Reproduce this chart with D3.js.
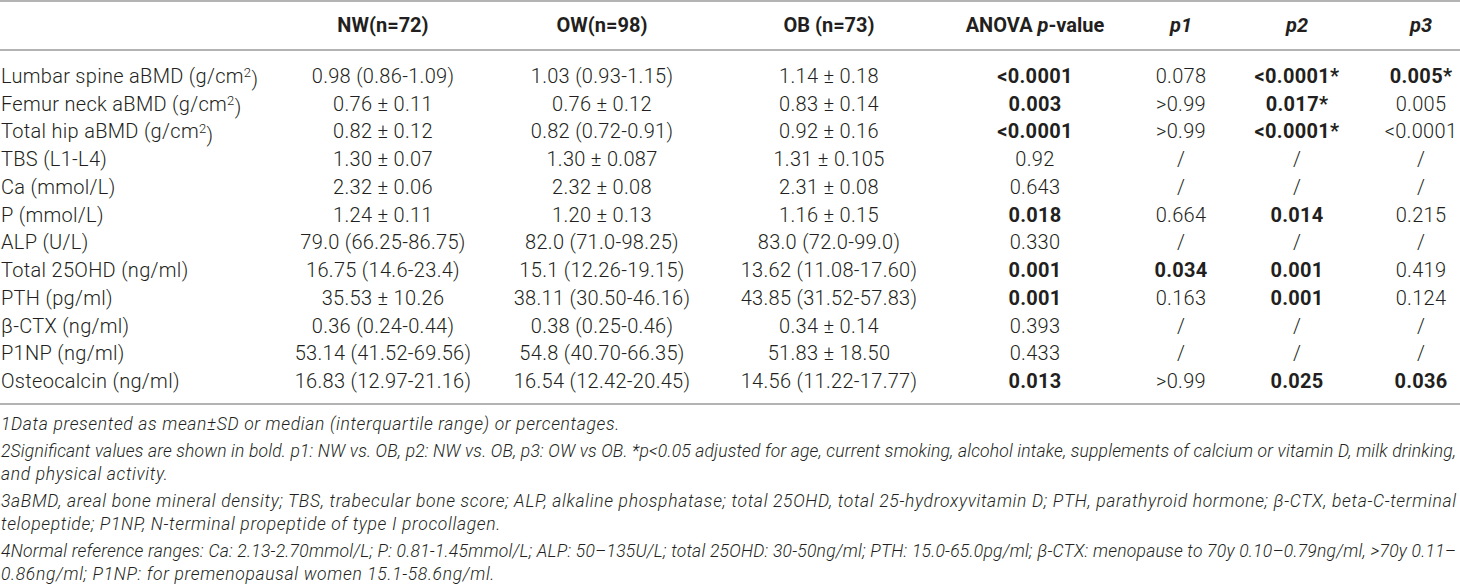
<!DOCTYPE html>
<html>
<head>
<meta charset="utf-8">
<script src="https://cdn.jsdelivr.net/npm/d3@7"></script>
<style>
  body { margin: 0; background: #fff; }
  svg { display: block; }
</style>
</head>
<body>
<div id="chart"></div>
<script>
// table content
const columns = ["NW(n=72)", "OW(n=98)", "OB (n=73)", "ANOVA p-value", "p1", "p2", "p3"]

const rowLabels = [
  "Lumbar spine aBMD (g/cm²)", "Femur neck aBMD (g/cm²)", "Total hip aBMD (g/cm²)",
  "TBS (L1-L4)", "Ca (mmol/L)", "P (mmol/L)", "ALP (U/L)", "Total 25OHD (ng/ml)",
  "PTH (pg/ml)", "β-CTX (ng/ml)", "P1NP (ng/ml)", "Osteocalcin (ng/ml)"
]

const nwValues = ["0.98 (0.86-1.09)", "0.76 ± 0.11", "0.82 ± 0.12", "1.30 ± 0.07", "2.32 ± 0.06",
  "1.24 ± 0.11", "79.0 (66.25-86.75)", "16.75 (14.6-23.4)", "35.53 ± 10.26", "0.36 (0.24-0.44)",
  "53.14 (41.52-69.56)", "16.83 (12.97-21.16)"]
const owValues = ["1.03 (0.93-1.15)", "0.76 ± 0.12", "0.82 (0.72-0.91)", "1.30 ± 0.087", "2.32 ± 0.08",
  "1.20 ± 0.13", "82.0 (71.0-98.25)", "15.1 (12.26-19.15)", "38.11 (30.50-46.16)", "0.38 (0.25-0.46)",
  "54.8 (40.70-66.35)", "16.54 (12.42-20.45)"]
const obValues = ["1.14 ± 0.18", "0.83 ± 0.14", "0.92 ± 0.16", "1.31 ± 0.105", "2.31 ± 0.08",
  "1.16 ± 0.15", "83.0 (72.0-99.0)", "13.62 (11.08-17.60)", "43.85 (31.52-57.83)", "0.34 ± 0.14",
  "51.83 ± 18.50", "14.56 (11.22-17.77)"]

const anovaP = ["<0.0001", "0.003", "<0.0001", "0.92", "0.643", "0.018", "0.330", "0.001", "0.001", "0.393", "0.433", "0.013"]
const p1Values = ["0.078", ">0.99", ">0.99", "/", "/", "0.664", "/", "0.034", "0.163", "/", "/", ">0.99"]
const p2Values = ["<0.0001*", "0.017*", "<0.0001*", "/", "/", "0.014", "/", "0.001", "0.001", "/", "/", "0.025"]
const p3Values = ["0.005*", "0.005", "<0.0001", "/", "/", "0.215", "/", "0.419", "0.124", "/", "/", "0.036"]

// significant (shown in bold)
const anovaSig = [1, 1, 1, 0, 0, 1, 0, 1, 1, 0, 0, 1]
const p1Sig = [0, 0, 0, 0, 0, 0, 0, 1, 0, 0, 0, 0]
const p2Sig = [1, 1, 1, 0, 0, 1, 0, 1, 1, 0, 0, 1]
const p3Sig = [1, 0, 0, 0, 0, 0, 0, 0, 0, 0, 0, 1]

const footnotes = [
  ["1Data presented as mean±SD or median (interquartile range) or percentages."],
  ["2Significant values are shown in bold. p1: NW vs. OB, p2: NW vs. OB, p3: OW vs OB. *p<0.05 adjusted for age, current smoking, alcohol intake, supplements of calcium or vitamin D, milk drinking,",
   "and physical activity."],
  ["3aBMD, areal bone mineral density; TBS, trabecular bone score; ALP, alkaline phosphatase; total 25OHD, total 25-hydroxyvitamin D; PTH, parathyroid hormone; β-CTX, beta-C-terminal",
   "telopeptide; P1NP, N-terminal propeptide of type I procollagen."],
  ["4Normal reference ranges: Ca: 2.13-2.70mmol/L; P: 0.81-1.45mmol/L; ALP: 50–135U/L; total 25OHD: 30-50ng/ml; PTH: 15.0-65.0pg/ml; β-CTX: menopause to 70y 0.10–0.79ng/ml, >70y 0.11–",
   "0.86ng/ml; P1NP: for premenopausal women 15.1-58.6ng/ml."]
]

const W = 1460, H = 588
const ink = "#231f20", rule = "#9a9a9a"
const bodyFont = "Roboto, 'Liberation Sans', Arial, sans-serif"

const svg = d3.select("#chart").append("svg")
  .attr("width", W)
  .attr("height", H)

// column centres
const x = d3.scaleOrdinal()
  .domain(columns)
  .range([383, 602, 829, 1035, 1181, 1297, 1421])

// rows
const y = d3.scaleLinear()
  .domain([0, rowLabels.length - 1])
  .range([76, 381])

const headerY = 25

// rules
const rules = [1, 50, 404]
svg.selectAll(".rule")
  .data(rules).enter()
  .append("line")
  .attr("class", "rule")
  .attr("x1", 0).attr("x2", W)
  .attr("y1", d => d).attr("y2", d => d)
  .style("stroke", rule)
  .style("stroke-width", 1.6)

// header
const head = svg.append("g")
  .style("font-family", bodyFont)
  .style("font-size", "20px")
  .style("font-weight", 700)
  .style("fill", ink)

head.selectAll("text")
  .data(columns).enter()
  .append("text")
  .attr("x", d => x(d))
  .attr("y", headerY)
  .attr("dy", "0.35em")
  .attr("text-anchor", "middle")
  .each(function (d) {
    const t = d3.select(this)
    // italic p in p-value headings
    const m = d.match(/^(.*?)(p)(-value|\d)$/)
    if (!m) { t.text(d); return }
    if (m[1]) t.append("tspan").text(m[1])
    t.append("tspan").style("font-style", "italic").text(m[2] + (/\d/.test(m[3]) ? m[3] : ""))
    if (!/\d/.test(m[3])) t.append("tspan").text(m[3])
  })

// body
const body = svg.append("g")
  .style("font-family", bodyFont)
  .style("font-size", "20px")
  .style("font-weight", 300)
  .style("letter-spacing", "0.3px")
  .style("fill", ink)

body.selectAll(".label")
  .data(rowLabels).enter()
  .append("text")
  .attr("class", "label")
  .attr("x", 1)
  .attr("y", (d, i) => y(i))
  .attr("dy", "0.35em")
  .each(function (d) {
    const t = d3.select(this)
    const parts = d.split("²")
    t.append("tspan").text(parts[0])
    if (parts.length > 1) {
      t.append("tspan").attr("dy", "-0.45em").style("font-size", "13px").text("2")
      t.append("tspan").attr("dy", "0.45em").text(parts[1])
    }
  })

const cols = [
  { key: columns[0], vals: nwValues },
  { key: columns[1], vals: owValues },
  { key: columns[2], vals: obValues },
  { key: columns[3], vals: anovaP, sig: anovaSig },
  { key: columns[4], vals: p1Values, sig: p1Sig },
  { key: columns[5], vals: p2Values, sig: p2Sig },
  { key: columns[6], vals: p3Values, sig: p3Sig }
]

cols.forEach(c => {
  body.selectAll(null)
    .data(c.vals).enter()
    .append("text")
    .attr("x", x(c.key))
    .attr("y", (d, i) => y(i))
    .attr("dy", "0.35em")
    .attr("text-anchor", "middle")
    .style("font-weight", (d, i) => c.sig && c.sig[i] ? 700 : 300)
    .text(d => d)
})

// footnotes
const fnTop = 424, lineGap = 23.5, paraGap = 26.5
const fnLines = []
let fy = fnTop
footnotes.forEach((para, pi) => {
  if (pi > 0) fy += paraGap - lineGap
  para.forEach((line, li) => {
    fnLines.push({ text: line, y: fy, full: li < para.length - 1 })
    fy += lineGap
  })
})

const notes = svg.append("g")
  .style("font-family", bodyFont)
  .style("font-size", "17.5px")
  .style("font-weight", 300)
  .style("font-style", "italic")
  .style("fill", ink)

const fnText = notes.selectAll("text")
  .data(fnLines).enter()
  .append("text")
  .attr("x", 1)
  .attr("y", d => d.y)
  .attr("dy", "0.35em")
  .text(d => d.text)

// tracking taken from first note, justified lines stretched to width
const first = fnText.nodes()[0]
const natural = first.getComputedTextLength()
const track = (619 - natural) / fnLines[0].text.length
fnText.filter(d => !d.full).style("letter-spacing", track + "px")
fnText.filter(d => d.full)
  .attr("textLength", W - 5)
  .attr("lengthAdjust", "spacing")
</script>
</body>
</html>
